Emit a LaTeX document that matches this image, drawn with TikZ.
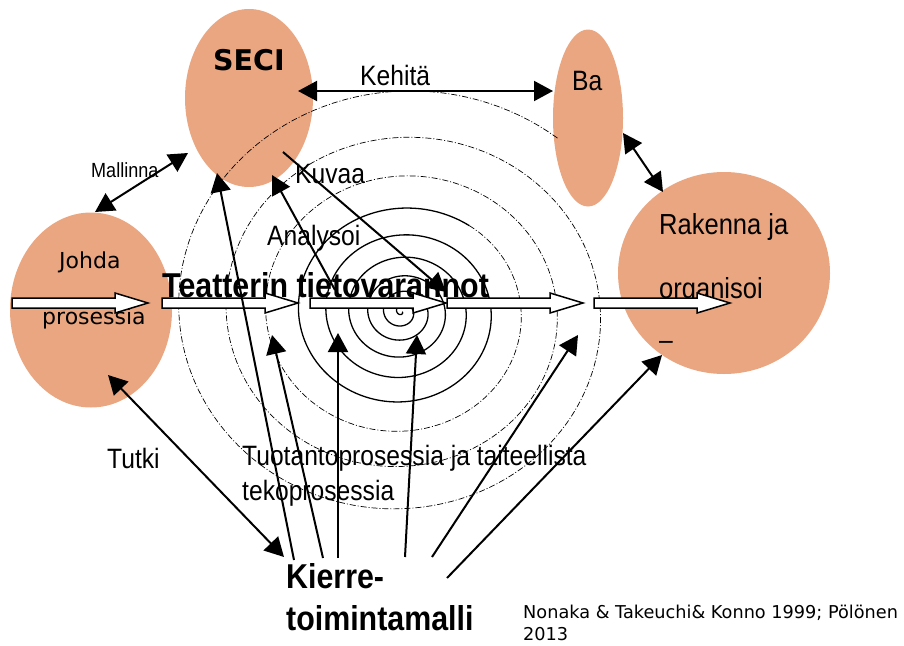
\documentclass[tikz,border=0pt]{standalone}
\usepackage{fontspec}
\setmainfont{Liberation Sans}
\newfontfamily\narrowsans[FakeStretch=0.88]{Liberation Sans}
\newfontfamily\humanist{DejaVu Sans}
\usetikzlibrary{arrows.meta,shapes.geometric}

\definecolor{salmon}{RGB}{234,166,128}

\tikzset{
  blob/.style={ellipse, fill=salmon, draw=none, inner sep=0pt},
  lbl/.style={anchor=base west, inner sep=0pt, font=\narrowsans\fontsize{28}{30}\selectfont},
  biglbl/.style={anchor=base west, inner sep=0pt, font=\narrowsans\bfseries\fontsize{34.5}{36}\selectfont},
  smalllbl/.style={anchor=base west, inner sep=0pt, font=\narrowsans\fontsize{20.5}{22}\selectfont},
  hlbl/.style={anchor=base west, inner sep=0pt, font=\humanist\fontsize{22}{24}\selectfont},
  notelbl/.style={anchor=base west, inner sep=0pt, font=\humanist\fontsize{17.7}{20}\selectfont},
  head/.tip={Triangle[length=19pt,width=20pt]},
  link/.style={line width=2pt, -head},
  dlink/.style={line width=2pt, head-head},
  solidspiral/.style={line width=1.3pt, line join=round},
  dashspiral/.style={line width=0.7pt, dash pattern=on 6pt off 2pt on 1pt off 2pt},
  hollow/.style={draw=black, line width=1.5pt, fill=white, line join=miter},
  fatarrow/.pic={\path[hollow] (0,-5) -- (103,-5) -- (103,-10) -- (136,0) -- (103,10) -- (103,5) -- (0,5) -- cycle;}
}

\begin{document}
\begin{tikzpicture}[x=1pt,y=-1pt]
\useasboundingbox (0,0) rectangle (904,645);

% coloured ellipses
\node[blob, minimum width=128pt, minimum height=178pt] (seci) at (249,98) {};
\node[blob, minimum width=70pt, minimum height=177pt] (ba) at (588,118) {};
\node[blob, minimum width=162pt, minimum height=195pt] (johda) at (91,310) {};
\node[blob, minimum width=212pt, minimum height=202pt] (rakenna) at (724,273) {};

% the knowledge spiral
\draw[solidspiral] plot[domain=-700:1386, samples=700, variable=\t]
  ({402+1.07*(85*pow(1.2,(\t-90)/360)-57)*cos(\t)}, {312+(85*pow(1.2,(\t-90)/360)-57)*sin(\t)});
\draw[dashspiral] plot[domain=1386:2470, samples=400, variable=\t]
  ({402+1.07*(85*pow(1.2,(\t-90)/360)-57)*cos(\t)}, {312+(85*pow(1.2,(\t-90)/360)-57)*sin(\t)});

% texts
\node[anchor=base west, inner sep=0pt, font=\humanist\bfseries\fontsize{28.5}{30}\selectfont] (secit) at (213,70) {SECI};
\node[lbl] (kehita) at (360,85) {Kehitä};
\node[lbl] (bat) at (572,90) {Ba};
\node[smalllbl] (mallinna) at (91,177) {Mallinna};
\node[lbl] (kuvaa) at (295,183) {Kuvaa};
\node[lbl] (analysoi) at (267,245) {Analysoi};
\node[hlbl] (johdat) at (59,268) {Johda};
\node[hlbl] (prosessia) at (42,324) {prosessia};
\node[biglbl] (teatteri) at (162,297) {Teatterin tietovarannot};
\node[lbl, font=\narrowsans\fontsize{29}{31}\selectfont] (rakennat) at (659,234) {Rakenna ja};
\node[lbl, font=\narrowsans\fontsize{29}{31}\selectfont] (organisoi) at (659,298) {organisoi};
\node[lbl] (viiva) at (659,349) {–};
\node[lbl] (tutki) at (107,468) {Tutki};
\node[lbl] (tuotanto) at (242,465) {Tuotantoprosessia ja taiteellista};
\node[lbl] (teko) at (242,500) {tekoprosessia};
\node[biglbl] (kierre) at (286,588) {Kierre-};
\node[biglbl] (toiminta) at (286,630) {toimintamalli};
\node[notelbl] (lahde1) at (523,618) {Nonaka \& Takeuchi\& Konno 1999; Pölönen};
\node[notelbl] (lahde2) at (523,640) {2013};

% hollow process arrows through the spiral
\pic (wa1) at (12,303) {fatarrow};
\pic (wa2) at (162,303) {fatarrow};
\pic (wa3) at (310,303) {fatarrow};
\pic (wa4) at (447,303) {fatarrow};
\pic (wa5) at (594,303) {fatarrow};

% connector end points
\coordinate (kehA) at (298,91);
\coordinate (kehB) at (553,91);
\coordinate (malA) at (95,212);
\coordinate (malB) at (188,153);
\coordinate (baA) at (623,133);
\coordinate (baB) at (663,192);
\coordinate (tutA) at (108,375);
\coordinate (tutB) at (284,557);
\coordinate (kuvA) at (283,152);
\coordinate (kuvB) at (446,292);
\coordinate (anaA) at (335,290);
\coordinate (anaB) at (272,175);
\coordinate (k1) at (294,560);
\coordinate (t1) at (217,173);
\coordinate (k2) at (323,558);
\coordinate (t2) at (272,335);
\coordinate (k3) at (338,558);
\coordinate (t3) at (338,333);
\coordinate (k4) at (405,557);
\coordinate (t4) at (417,335);
\coordinate (k5) at (432,557);
\coordinate (t5) at (578,335);
\coordinate (k6) at (447,578);
\coordinate (t6) at (662,355);

% black connectors
\draw[dlink] (kehA) -- (kehB);
\draw[dlink] (malA) -- (malB);
\draw[dlink] (baA) -- (baB);
\draw[dlink] (tutA) -- (tutB);
\draw[link] (kuvA) -- (kuvB);
\draw[link] (anaA) -- (anaB);
\draw[link] (k1) -- (t1);
\draw[link] (k2) -- (t2);
\draw[link] (k3) -- (t3);
\draw[link] (k4) -- (t4);
\draw[link] (k5) -- (t5);
\draw[link] (k6) -- (t6);
\end{tikzpicture}
\end{document}
